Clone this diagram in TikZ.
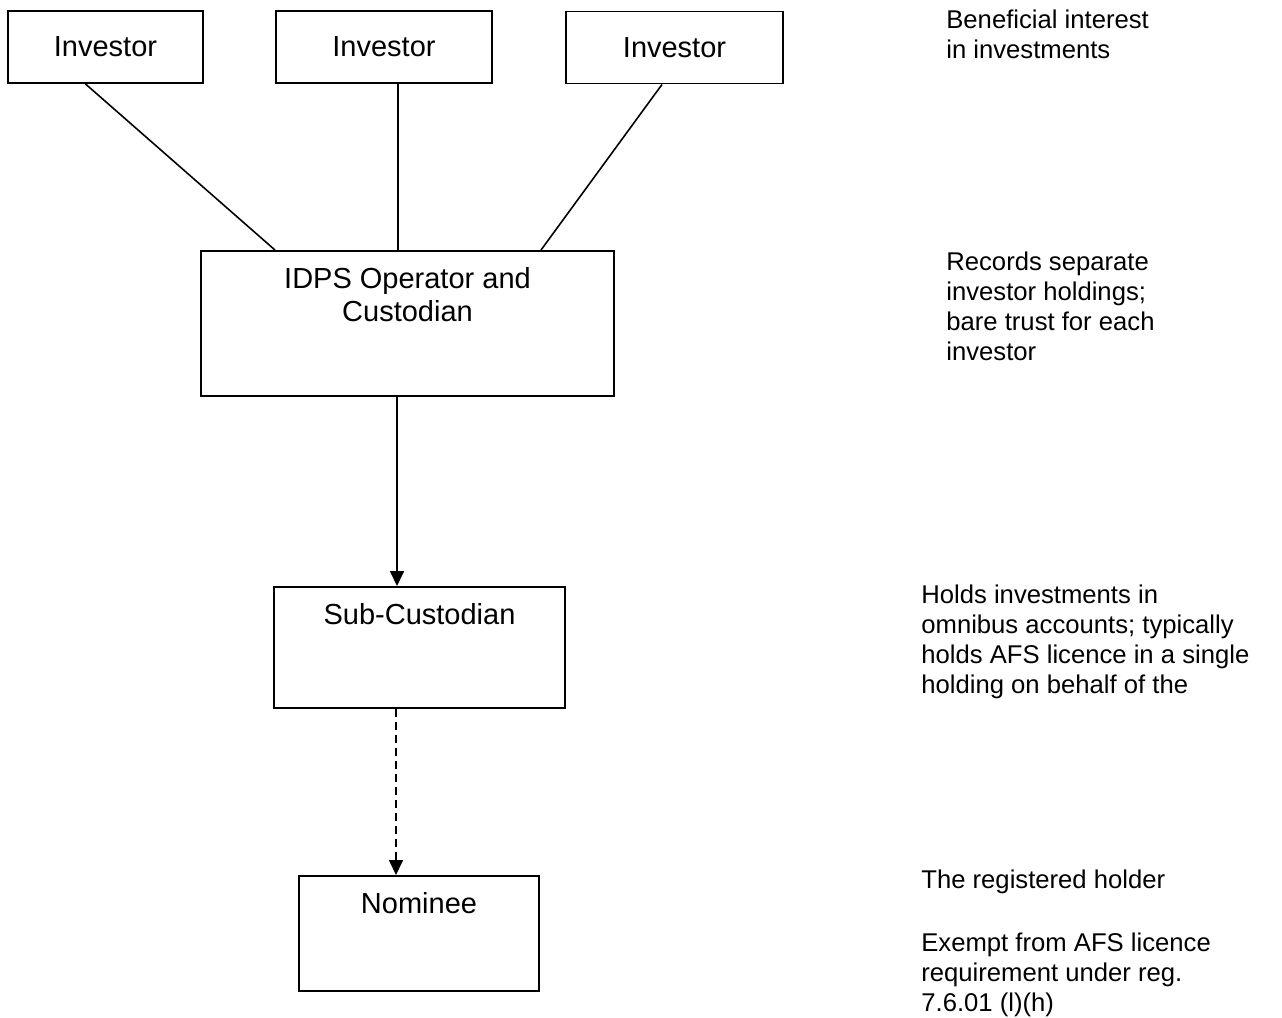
\documentclass[tikz,border=0pt]{standalone}
\usepackage{fontspec}
\setmainfont{Liberation Sans}
\usetikzlibrary{arrows.meta,positioning,calc}
\newcommand{\topbox}[3]{\parbox[c][#2][t]{#1}{\centering\vspace*{0.33cm}#3}}

\begin{document}
\begin{tikzpicture}[
  box/.style={draw, line width=1.1pt, inner sep=0pt, font=\fontsize{16.5}{19}\selectfont},
  invbox/.style={box, minimum height=1.44cm},
  note/.style={anchor=north west, inner sep=0pt, align=left, font=\fontsize{14.6}{17}\selectfont},
  link/.style={line width=0.9pt},
  flow/.style={line width=0.9pt, -{Triangle[length=0.3cm,width=0.28cm]}}
]
  \useasboundingbox (0,0) rectangle (25.64,20.34);

  % Investors
  \node[invbox, minimum width=3.9cm] (inv1) at (2.11,19.40) {Investor};
  \node[invbox, minimum width=4.32cm] (inv2) at (7.68,19.40) {Investor};
  \node[invbox, minimum width=4.34cm] (inv3) at (13.49,19.39) {Investor};

  % Operator, sub-custodian, nominee
  \node[box] (idps) at (8.15,13.87) {\topbox{8.26cm}{2.9cm}{IDPS Operator and\\Custodian}};
  \node[box] (sub) at (8.39,7.39) {\topbox{5.82cm}{2.42cm}{Sub-Custodian}};
  \node[box] (nom) at (8.38,1.67) {\topbox{4.8cm}{2.3cm}{Nominee}};

  % Links
  \draw[link] ([xshift=-0.4cm]inv1.south) -- ([xshift=-2.65cm]idps.north);
  \draw[link] ([xshift=0.28cm]inv2.south) -- ([xshift=0.28cm]inv2.south |- idps.north);
  \draw[link] ([xshift=-0.25cm]inv3.south) -- ([xshift=2.67cm]idps.north);
  \draw[flow] ([xshift=-0.21cm]idps.south) -- ([xshift=-0.21cm]idps.south |- sub.north);
  \draw[flow, dash pattern=on 0.16cm off 0.1cm] ([xshift=-0.47cm]sub.south) -- ([xshift=-0.47cm]sub.south |- nom.north);

  % Notes
  \node[note] (n1) at (18.92,20.14) {Beneficial interest\\in investments};
  \node[note] (n2) at (18.92,15.30) {Records separate\\investor holdings;\\bare trust for each\\investor};
  \node[note] (n3) at (18.42,8.64) {Holds investments in\\omnibus accounts; typically\\holds AFS licence in a single\\holding on behalf of the};
  \node[note] (n4) at (18.42,2.94) {The registered holder};
  \node[note] (n5) at (18.42,1.68) {Exempt from AFS licence\\requirement under reg.\\7.6.01 (l)(h)};
\end{tikzpicture}
\end{document}
